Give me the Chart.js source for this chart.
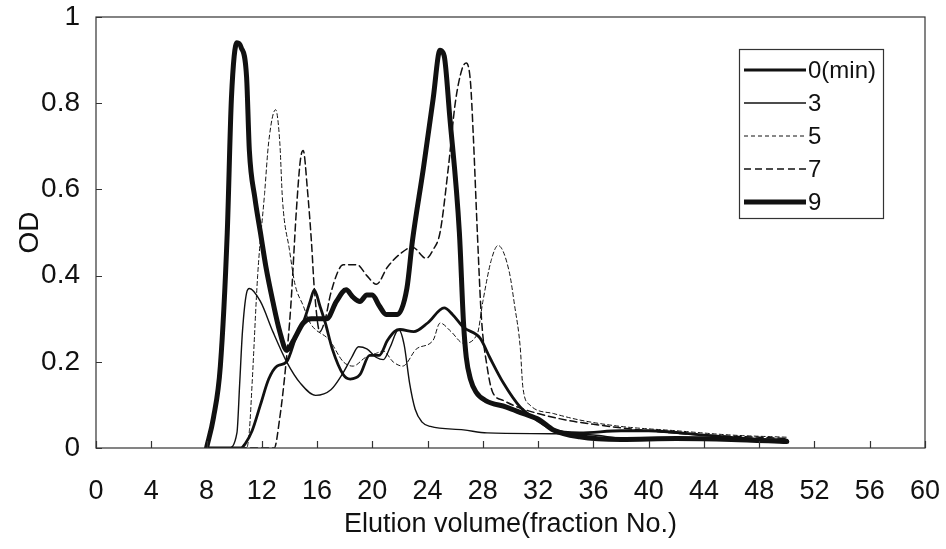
<!DOCTYPE html>
<html>
<head>
<meta charset="utf-8">
<script src="https://cdn.jsdelivr.net/npm/chart.js@4.4.0/dist/chart.umd.min.js"></script>
<style>
  html, body { margin: 0; padding: 0; background: #fff; }
  #chart { display: block; }
</style>
</head>
<body>
<canvas id="chart" width="946" height="549"></canvas>
<script>
// elution profiles, OD vs fraction number, one pair of arrays per heating time
const labels = ["0(min)", "3", "5", "7", "9"];

const x0 = [8, 10.5, 10.8, 11.3, 11.9, 12.5, 13.1, 13.8, 14.5, 15.1, 15.5, 15.8, 16.2, 16.6, 17.1, 17.9, 18.4, 19.1, 19.8, 20.5, 21.1, 21.6, 22, 23, 24, 25.2, 25.8, 26.6, 27.8, 28.5, 29.5, 30.7, 31.9, 33.1, 35, 38, 40, 44, 48, 50];
const y0 = [0, 0, 0.01, 0.04, 0.1, 0.16, 0.19, 0.2, 0.26, 0.3, 0.34, 0.367, 0.33, 0.29, 0.23, 0.17, 0.16, 0.17, 0.215, 0.215, 0.25, 0.27, 0.275, 0.27, 0.29, 0.325, 0.31, 0.28, 0.255, 0.21, 0.15, 0.095, 0.065, 0.042, 0.035, 0.04, 0.04, 0.03, 0.02, 0.018];

const x3 = [8, 9.6, 10.2, 10.4, 10.6, 10.9, 11.1, 11.9, 12.8, 13.8, 14.8, 15.9, 17, 17.8, 18.5, 19, 19.6, 20.3, 20.8, 21.3, 21.9, 22.3, 22.7, 23.1, 23.6, 24.2, 26.6, 28.3, 33, 36, 38, 40, 44, 50];
const y3 = [0, 0, 0.035, 0.15, 0.27, 0.36, 0.37, 0.34, 0.27, 0.2, 0.15, 0.122, 0.135, 0.17, 0.21, 0.235, 0.23, 0.21, 0.205, 0.235, 0.275, 0.24, 0.15, 0.09, 0.06, 0.05, 0.042, 0.035, 0.033, 0.03, 0.022, 0.02, 0.02, 0.02];

const x5 = [8, 10.9, 11.1, 11.3, 11.7, 12.2, 12.5, 13, 13.3, 13.5, 14, 14.4, 15, 15.5, 16.9, 17.9, 18.6, 19.5, 20.3, 20.8, 21.5, 22.2, 23.2, 24.4, 24.9, 25.7, 26.6, 27.6, 28, 28.6, 29.1, 29.9, 30.3, 30.7, 30.9, 31.4, 33.1, 35, 38, 42, 46, 50];
const y5 = [0, 0, 0.04, 0.15, 0.4, 0.59, 0.71, 0.785, 0.71, 0.575, 0.46, 0.38, 0.33, 0.29, 0.25, 0.2, 0.19, 0.21, 0.22, 0.225, 0.2, 0.19, 0.23, 0.25, 0.29, 0.27, 0.243, 0.265, 0.34, 0.435, 0.47, 0.41, 0.33, 0.235, 0.14, 0.1, 0.08, 0.065, 0.05, 0.04, 0.03, 0.025];

const x7 = [8, 12.9, 13.3, 13.7, 14.1, 14.5, 14.8, 15, 15.3, 15.6, 15.8, 16.2, 16.6, 17, 17.9, 18.9, 19.6, 20.3, 21.1, 22, 22.9, 23.9, 24.4, 24.9, 25.5, 26, 26.5, 26.8, 27.1, 27.3, 27.6, 27.9, 28.3, 28.7, 29.5, 30.5, 32, 34, 36, 40, 44, 48, 50];
const y7 = [0, 0, 0.07, 0.18, 0.33, 0.55, 0.67, 0.69, 0.6, 0.475, 0.37, 0.27, 0.3, 0.36, 0.425, 0.425, 0.4, 0.38, 0.42, 0.45, 0.466, 0.44, 0.46, 0.5, 0.65, 0.8, 0.88, 0.893, 0.85, 0.73, 0.5, 0.3, 0.19, 0.13, 0.11, 0.095, 0.08, 0.065, 0.055, 0.04, 0.03, 0.025, 0.022];

const x9 = [8, 8.5, 9, 9.5, 9.8, 10.2, 10.5, 10.9, 11.1, 11.5, 11.9, 12.3, 12.8, 13.3, 13.8, 14.3, 15, 15.6, 16.2, 16.7, 17.4, 18.1, 18.6, 19.1, 19.6, 20, 20.5, 21, 21.8, 22.5, 22.9, 23.7, 24.4, 24.9, 25.2, 25.6, 26.3, 26.6, 26.8, 27.1, 27.5, 28.2, 29.7, 30.9, 32.1, 33.1, 35, 38, 42, 46, 50];
const y9 = [0, 0.07, 0.19, 0.5, 0.81, 0.94, 0.93, 0.86, 0.69, 0.58, 0.5, 0.42, 0.34, 0.27, 0.227, 0.25, 0.29, 0.3, 0.3, 0.3, 0.34, 0.367, 0.35, 0.34, 0.355, 0.355, 0.33, 0.31, 0.31, 0.37, 0.48, 0.65, 0.81, 0.923, 0.91, 0.77, 0.5, 0.29, 0.21, 0.16, 0.13, 0.11, 0.095, 0.08, 0.065, 0.042, 0.026, 0.02, 0.022, 0.02, 0.015];

const xTicks = [0, 4, 8, 12, 16, 20, 24, 28, 32, 36, 40, 44, 48, 52, 56, 60];
const yTicks = [0, 0.2, 0.4, 0.6, 0.8, 1];

const INK = '#111';
const FONT = "'Liberation Sans', Arial, sans-serif";

function pts(xs, ys) {
  return xs.map((x, i) => ({ x: x, y: ys[i] }));
}

function series(label, xs, ys, width, dash) {
  return {
    label: label,
    data: pts(xs, ys),
    borderColor: INK,
    borderWidth: width,
    borderDash: dash,
    borderCapStyle: 'round',
    borderJoinStyle: 'round',
    pointRadius: 0,
    fill: false,
    cubicInterpolationMode: 'monotone'
  };
}

// frame, inward tick marks and the boxed legend
const framePlugin = {
  id: 'frame',
  afterDraw(chart) {
    const ctx = chart.ctx;
    const a = chart.chartArea;
    const xs = chart.scales.x, ys = chart.scales.y;
    ctx.save();
    ctx.strokeStyle = '#333';
    ctx.lineWidth = 1.2;
    ctx.strokeRect(a.left, a.top, a.right - a.left, a.bottom - a.top);
    ctx.beginPath();
    xTicks.forEach(v => {
      const px = Math.round(xs.getPixelForValue(v)) + 0.5;
      ctx.moveTo(px, a.bottom);
      ctx.lineTo(px, a.bottom - 7);
    });
    yTicks.forEach(v => {
      const py = Math.round(ys.getPixelForValue(v)) + 0.5;
      ctx.moveTo(a.left, py);
      ctx.lineTo(a.left + 6, py);
    });
    ctx.stroke();

    // legend box
    const bx = 739, by = 49, bw = 144, bh = 169;
    ctx.fillStyle = '#fff';
    ctx.fillRect(bx, by, bw, bh);
    ctx.strokeStyle = '#333';
    ctx.lineWidth = 1.2;
    ctx.setLineDash([]);
    ctx.strokeRect(bx + 0.5, by + 0.5, bw, bh);
    ctx.font = '24px ' + FONT;
    ctx.textBaseline = 'middle';
    ctx.textAlign = 'left';
    chart.data.datasets.forEach((ds, i) => {
      const ry = 70 + i * 33;
      ctx.strokeStyle = INK;
      ctx.lineWidth = ds.borderWidth;
      ctx.setLineDash(ds.borderDash || []);
      ctx.beginPath();
      ctx.moveTo(744, ry);
      ctx.lineTo(806, ry);
      ctx.stroke();
      ctx.setLineDash([]);
      ctx.fillStyle = INK;
      ctx.fillText(ds.label, 808, ry + 1);
    });
    ctx.restore();
  }
};

new Chart(document.getElementById('chart'), {
  type: 'line',
  data: {
    datasets: [
      series(labels[0], x0, y0, 2.8, []),
      series(labels[1], x3, y3, 1.4, []),
      series(labels[2], x5, y5, 1, [4, 3]),
      series(labels[3], x7, y7, 1.5, [7, 4]),
      series(labels[4], x9, y9, 5, [])
    ]
  },
  options: {
    responsive: false,
    animation: false,
    layout: { padding: { top: 17, right: 21, left: 0, bottom: 0 } },
    plugins: { legend: { display: false }, tooltip: { enabled: false } },
    scales: {
      x: {
        type: 'linear',
        min: 0,
        max: 60,
        afterFit: s => { s.height = 101; s.paddingLeft = 0; s.paddingRight = 0; },
        afterBuildTicks: s => { s.ticks = xTicks.map(v => ({ value: v })); },
        grid: { display: false, drawTicks: false },
        border: { display: false },
        ticks: { color: INK, padding: 27, font: { family: FONT, size: 27 } },
        title: {
          display: true,
          text: 'Elution volume(fraction No.)',
          color: INK,
          padding: { top: 0, bottom: 8 },
          font: { family: FONT, size: 27 }
        }
      },
      y: {
        min: 0,
        max: 1,
        afterFit: s => { s.width = 96; s.paddingTop = 0; s.paddingBottom = 0; },
        afterBuildTicks: s => { s.ticks = yTicks.map(v => ({ value: v })); },
        grid: { display: false, drawTicks: false },
        border: { display: false },
        ticks: {
          color: INK,
          padding: 16,
          font: { family: FONT, size: 28 },
          callback: v => (v === 0 || v === 1) ? String(v) : v.toFixed(1)
        },
        title: {
          display: true,
          text: 'OD',
          color: INK,
          padding: { top: 13, bottom: 0 },
          font: { family: FONT, size: 28 }
        }
      }
    }
  },
  plugins: [framePlugin]
});
</script>
</body>
</html>
